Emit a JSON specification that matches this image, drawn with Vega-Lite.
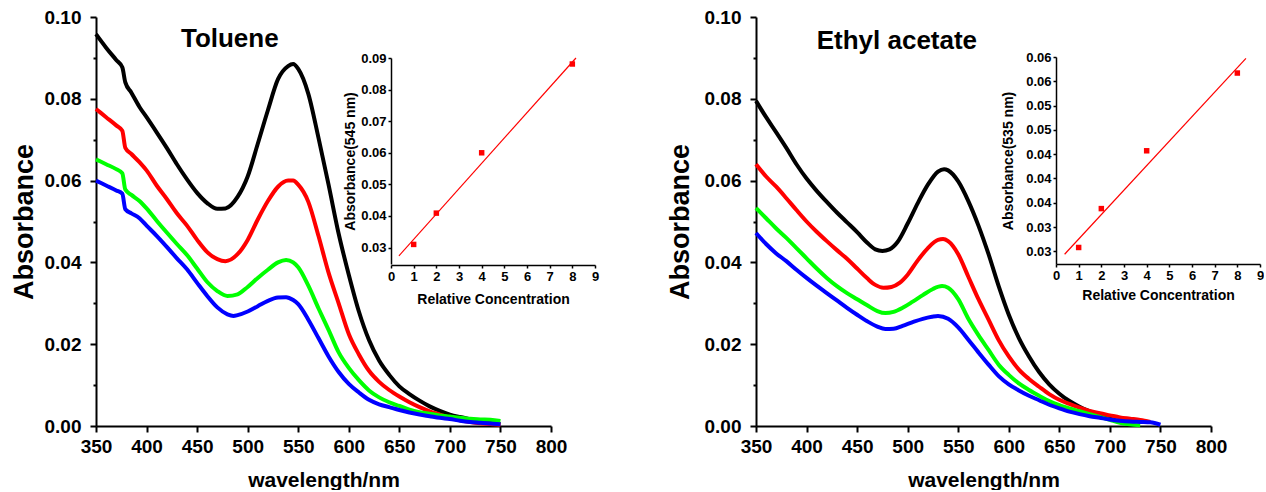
{
  "$schema": "https://vega.github.io/schema/vega-lite/v6.json",
  "padding": {"left": 10, "top": 8, "right": 0, "bottom": 0},
  "bounds": "flush",
  "spacing": 205,
  "config": {
    "font": "Liberation Sans",
    "view": {"stroke": null},
    "axis": {
      "grid": false,
      "labelFont": "Liberation Sans",
      "titleFont": "Liberation Sans",
      "labelFontWeight": "bold",
      "titleFontWeight": "bold",
      "labelColor": "#000000",
      "titleColor": "#000000",
      "domainColor": "#000000",
      "tickColor": "#000000",
      "labelOverlap": false,
      "labelFlush": false
    }
  },
  "datasets": {
    "spec": [
      {"p":"T","c":8,"w":350,"a":0.0958},{"p":"T","c":8,"w":360,"a":0.0925},{"p":"T","c":8,"w":370,"a":0.0895},{"p":"T","c":8,"w":376,"a":0.0877},{"p":"T","c":8,"w":379,"a":0.0840},{"p":"T","c":8,"w":385,"a":0.0815},{"p":"T","c":8,"w":393,"a":0.0780},{"p":"T","c":8,"w":400,"a":0.0755},{"p":"T","c":8,"w":410,"a":0.0718},{"p":"T","c":8,"w":420,"a":0.0680},{"p":"T","c":8,"w":430,"a":0.0640},{"p":"T","c":8,"w":440,"a":0.0603},{"p":"T","c":8,"w":450,"a":0.0570},{"p":"T","c":8,"w":460,"a":0.0545},{"p":"T","c":8,"w":470,"a":0.0531},{"p":"T","c":8,"w":478,"a":0.0532},{"p":"T","c":8,"w":490,"a":0.0560},{"p":"T","c":8,"w":500,"a":0.0610},{"p":"T","c":8,"w":510,"a":0.0690},{"p":"T","c":8,"w":520,"a":0.0772},{"p":"T","c":8,"w":530,"a":0.0848},{"p":"T","c":8,"w":540,"a":0.0880},{"p":"T","c":8,"w":545,"a":0.0885},{"p":"T","c":8,"w":550,"a":0.0873},{"p":"T","c":8,"w":560,"a":0.0812},{"p":"T","c":8,"w":570,"a":0.0705},{"p":"T","c":8,"w":580,"a":0.0590},{"p":"T","c":8,"w":590,"a":0.0470},{"p":"T","c":8,"w":600,"a":0.0370},{"p":"T","c":8,"w":610,"a":0.0280},{"p":"T","c":8,"w":620,"a":0.0210},{"p":"T","c":8,"w":630,"a":0.0160},{"p":"T","c":8,"w":640,"a":0.0125},{"p":"T","c":8,"w":650,"a":0.0097},{"p":"T","c":8,"w":660,"a":0.0078},{"p":"T","c":8,"w":670,"a":0.0062},{"p":"T","c":8,"w":680,"a":0.0048},{"p":"T","c":8,"w":690,"a":0.0037},{"p":"T","c":8,"w":700,"a":0.0028},{"p":"T","c":8,"w":710,"a":0.0022},{"p":"T","c":8,"w":720,"a":0.0017},{"p":"T","c":8,"w":730,"a":0.0012},{"p":"T","c":8,"w":740,"a":0.0008},{"p":"T","c":8,"w":750,"a":0.0005},

      {"p":"T","c":4,"w":350,"a":0.0775},{"p":"T","c":4,"w":360,"a":0.0755},{"p":"T","c":4,"w":370,"a":0.0735},{"p":"T","c":4,"w":376,"a":0.0722},{"p":"T","c":4,"w":379,"a":0.0680},{"p":"T","c":4,"w":385,"a":0.0665},{"p":"T","c":4,"w":393,"a":0.0645},{"p":"T","c":4,"w":400,"a":0.0625},{"p":"T","c":4,"w":410,"a":0.0588},{"p":"T","c":4,"w":420,"a":0.0555},{"p":"T","c":4,"w":430,"a":0.0520},{"p":"T","c":4,"w":440,"a":0.0490},{"p":"T","c":4,"w":450,"a":0.0455},{"p":"T","c":4,"w":460,"a":0.0425},{"p":"T","c":4,"w":470,"a":0.0408},{"p":"T","c":4,"w":478,"a":0.0403},{"p":"T","c":4,"w":490,"a":0.0420},{"p":"T","c":4,"w":500,"a":0.0455},{"p":"T","c":4,"w":510,"a":0.0505},{"p":"T","c":4,"w":520,"a":0.0550},{"p":"T","c":4,"w":530,"a":0.0585},{"p":"T","c":4,"w":540,"a":0.0600},{"p":"T","c":4,"w":545,"a":0.0600},{"p":"T","c":4,"w":550,"a":0.0590},{"p":"T","c":4,"w":560,"a":0.0548},{"p":"T","c":4,"w":570,"a":0.0465},{"p":"T","c":4,"w":580,"a":0.0375},{"p":"T","c":4,"w":590,"a":0.0300},{"p":"T","c":4,"w":600,"a":0.0225},{"p":"T","c":4,"w":610,"a":0.0175},{"p":"T","c":4,"w":620,"a":0.0135},{"p":"T","c":4,"w":630,"a":0.0108},{"p":"T","c":4,"w":640,"a":0.0088},{"p":"T","c":4,"w":650,"a":0.0072},{"p":"T","c":4,"w":660,"a":0.0058},{"p":"T","c":4,"w":670,"a":0.0046},{"p":"T","c":4,"w":680,"a":0.0036},{"p":"T","c":4,"w":690,"a":0.0028},{"p":"T","c":4,"w":700,"a":0.0020},{"p":"T","c":4,"w":710,"a":0.0014},{"p":"T","c":4,"w":720,"a":0.0010},{"p":"T","c":4,"w":730,"a":0.0007},{"p":"T","c":4,"w":740,"a":0.0005},{"p":"T","c":4,"w":750,"a":0.0003},

      {"p":"T","c":2,"w":350,"a":0.0652},{"p":"T","c":2,"w":360,"a":0.0640},{"p":"T","c":2,"w":370,"a":0.0628},{"p":"T","c":2,"w":376,"a":0.0618},{"p":"T","c":2,"w":379,"a":0.0578},{"p":"T","c":2,"w":385,"a":0.0565},{"p":"T","c":2,"w":393,"a":0.0550},{"p":"T","c":2,"w":400,"a":0.0532},{"p":"T","c":2,"w":410,"a":0.0502},{"p":"T","c":2,"w":420,"a":0.0473},{"p":"T","c":2,"w":430,"a":0.0445},{"p":"T","c":2,"w":440,"a":0.0418},{"p":"T","c":2,"w":450,"a":0.0385},{"p":"T","c":2,"w":460,"a":0.0352},{"p":"T","c":2,"w":470,"a":0.0330},{"p":"T","c":2,"w":480,"a":0.0318},{"p":"T","c":2,"w":490,"a":0.0322},{"p":"T","c":2,"w":500,"a":0.0340},{"p":"T","c":2,"w":510,"a":0.0362},{"p":"T","c":2,"w":520,"a":0.0382},{"p":"T","c":2,"w":530,"a":0.0400},{"p":"T","c":2,"w":538,"a":0.0406},{"p":"T","c":2,"w":545,"a":0.0400},{"p":"T","c":2,"w":550,"a":0.0388},{"p":"T","c":2,"w":560,"a":0.0343},{"p":"T","c":2,"w":570,"a":0.0288},{"p":"T","c":2,"w":580,"a":0.0235},{"p":"T","c":2,"w":590,"a":0.0180},{"p":"T","c":2,"w":600,"a":0.0142},{"p":"T","c":2,"w":610,"a":0.0112},{"p":"T","c":2,"w":620,"a":0.0087},{"p":"T","c":2,"w":630,"a":0.0070},{"p":"T","c":2,"w":640,"a":0.0058},{"p":"T","c":2,"w":650,"a":0.0049},{"p":"T","c":2,"w":660,"a":0.0040},{"p":"T","c":2,"w":670,"a":0.0034},{"p":"T","c":2,"w":680,"a":0.0030},{"p":"T","c":2,"w":690,"a":0.0026},{"p":"T","c":2,"w":700,"a":0.0023},{"p":"T","c":2,"w":710,"a":0.0020},{"p":"T","c":2,"w":720,"a":0.0018},{"p":"T","c":2,"w":730,"a":0.0016},{"p":"T","c":2,"w":740,"a":0.0015},{"p":"T","c":2,"w":750,"a":0.0012},

      {"p":"T","c":1,"w":350,"a":0.0600},{"p":"T","c":1,"w":360,"a":0.0588},{"p":"T","c":1,"w":370,"a":0.0576},{"p":"T","c":1,"w":376,"a":0.0568},{"p":"T","c":1,"w":379,"a":0.0530},{"p":"T","c":1,"w":385,"a":0.0520},{"p":"T","c":1,"w":393,"a":0.0508},{"p":"T","c":1,"w":400,"a":0.0490},{"p":"T","c":1,"w":410,"a":0.0465},{"p":"T","c":1,"w":420,"a":0.0438},{"p":"T","c":1,"w":430,"a":0.0410},{"p":"T","c":1,"w":440,"a":0.0383},{"p":"T","c":1,"w":450,"a":0.0350},{"p":"T","c":1,"w":460,"a":0.0318},{"p":"T","c":1,"w":470,"a":0.0290},{"p":"T","c":1,"w":480,"a":0.0273},{"p":"T","c":1,"w":486,"a":0.0269},{"p":"T","c":1,"w":490,"a":0.0271},{"p":"T","c":1,"w":500,"a":0.0280},{"p":"T","c":1,"w":510,"a":0.0293},{"p":"T","c":1,"w":520,"a":0.0306},{"p":"T","c":1,"w":530,"a":0.0314},{"p":"T","c":1,"w":538,"a":0.0315},{"p":"T","c":1,"w":545,"a":0.0308},{"p":"T","c":1,"w":550,"a":0.0298},{"p":"T","c":1,"w":560,"a":0.0260},{"p":"T","c":1,"w":570,"a":0.0215},{"p":"T","c":1,"w":580,"a":0.0170},{"p":"T","c":1,"w":590,"a":0.0132},{"p":"T","c":1,"w":600,"a":0.0103},{"p":"T","c":1,"w":610,"a":0.0082},{"p":"T","c":1,"w":620,"a":0.0064},{"p":"T","c":1,"w":630,"a":0.0053},{"p":"T","c":1,"w":640,"a":0.0046},{"p":"T","c":1,"w":650,"a":0.0039},{"p":"T","c":1,"w":660,"a":0.0033},{"p":"T","c":1,"w":670,"a":0.0028},{"p":"T","c":1,"w":680,"a":0.0024},{"p":"T","c":1,"w":690,"a":0.0020},{"p":"T","c":1,"w":700,"a":0.0017},{"p":"T","c":1,"w":710,"a":0.0013},{"p":"T","c":1,"w":720,"a":0.0010},{"p":"T","c":1,"w":730,"a":0.0008},{"p":"T","c":1,"w":740,"a":0.0006},{"p":"T","c":1,"w":750,"a":0.0004},

      {"p":"E","c":8,"w":350,"a":0.0795},{"p":"E","c":8,"w":360,"a":0.0755},{"p":"E","c":8,"w":370,"a":0.0718},{"p":"E","c":8,"w":380,"a":0.0680},{"p":"E","c":8,"w":390,"a":0.0640},{"p":"E","c":8,"w":400,"a":0.0605},{"p":"E","c":8,"w":410,"a":0.0575},{"p":"E","c":8,"w":420,"a":0.0548},{"p":"E","c":8,"w":430,"a":0.0522},{"p":"E","c":8,"w":440,"a":0.0498},{"p":"E","c":8,"w":450,"a":0.0474},{"p":"E","c":8,"w":460,"a":0.0448},{"p":"E","c":8,"w":468,"a":0.0432},{"p":"E","c":8,"w":475,"a":0.0428},{"p":"E","c":8,"w":482,"a":0.0432},{"p":"E","c":8,"w":490,"a":0.0450},{"p":"E","c":8,"w":500,"a":0.0495},{"p":"E","c":8,"w":510,"a":0.0545},{"p":"E","c":8,"w":520,"a":0.0590},{"p":"E","c":8,"w":530,"a":0.0622},{"p":"E","c":8,"w":536,"a":0.0628},{"p":"E","c":8,"w":540,"a":0.0625},{"p":"E","c":8,"w":550,"a":0.0598},{"p":"E","c":8,"w":560,"a":0.0550},{"p":"E","c":8,"w":570,"a":0.0490},{"p":"E","c":8,"w":580,"a":0.0420},{"p":"E","c":8,"w":590,"a":0.0342},{"p":"E","c":8,"w":600,"a":0.0272},{"p":"E","c":8,"w":610,"a":0.0215},{"p":"E","c":8,"w":620,"a":0.0170},{"p":"E","c":8,"w":630,"a":0.0132},{"p":"E","c":8,"w":640,"a":0.0102},{"p":"E","c":8,"w":650,"a":0.0079},{"p":"E","c":8,"w":660,"a":0.0061},{"p":"E","c":8,"w":670,"a":0.0047},{"p":"E","c":8,"w":680,"a":0.0036},{"p":"E","c":8,"w":690,"a":0.0026},{"p":"E","c":8,"w":700,"a":0.0018},{"p":"E","c":8,"w":710,"a":0.0011},{"p":"E","c":8,"w":720,"a":0.0004},

      {"p":"E","c":4,"w":350,"a":0.0640},{"p":"E","c":4,"w":360,"a":0.0610},{"p":"E","c":4,"w":370,"a":0.0585},{"p":"E","c":4,"w":380,"a":0.0557},{"p":"E","c":4,"w":390,"a":0.0528},{"p":"E","c":4,"w":400,"a":0.0500},{"p":"E","c":4,"w":410,"a":0.0475},{"p":"E","c":4,"w":420,"a":0.0452},{"p":"E","c":4,"w":430,"a":0.0430},{"p":"E","c":4,"w":440,"a":0.0409},{"p":"E","c":4,"w":450,"a":0.0385},{"p":"E","c":4,"w":460,"a":0.0361},{"p":"E","c":4,"w":468,"a":0.0345},{"p":"E","c":4,"w":476,"a":0.0338},{"p":"E","c":4,"w":484,"a":0.0340},{"p":"E","c":4,"w":492,"a":0.0350},{"p":"E","c":4,"w":500,"a":0.0370},{"p":"E","c":4,"w":510,"a":0.0405},{"p":"E","c":4,"w":520,"a":0.0435},{"p":"E","c":4,"w":530,"a":0.0455},{"p":"E","c":4,"w":535,"a":0.0457},{"p":"E","c":4,"w":540,"a":0.0452},{"p":"E","c":4,"w":550,"a":0.0420},{"p":"E","c":4,"w":560,"a":0.0365},{"p":"E","c":4,"w":570,"a":0.0310},{"p":"E","c":4,"w":580,"a":0.0260},{"p":"E","c":4,"w":590,"a":0.0210},{"p":"E","c":4,"w":600,"a":0.0170},{"p":"E","c":4,"w":610,"a":0.0138},{"p":"E","c":4,"w":620,"a":0.0115},{"p":"E","c":4,"w":630,"a":0.0096},{"p":"E","c":4,"w":640,"a":0.0078},{"p":"E","c":4,"w":650,"a":0.0064},{"p":"E","c":4,"w":660,"a":0.0054},{"p":"E","c":4,"w":670,"a":0.0045},{"p":"E","c":4,"w":680,"a":0.0037},{"p":"E","c":4,"w":690,"a":0.0031},{"p":"E","c":4,"w":700,"a":0.0026},{"p":"E","c":4,"w":710,"a":0.0021},{"p":"E","c":4,"w":720,"a":0.0018},{"p":"E","c":4,"w":730,"a":0.0015},{"p":"E","c":4,"w":740,"a":0.0010},

      {"p":"E","c":2,"w":350,"a":0.0533},{"p":"E","c":2,"w":360,"a":0.0508},{"p":"E","c":2,"w":370,"a":0.0483},{"p":"E","c":2,"w":380,"a":0.0460},{"p":"E","c":2,"w":390,"a":0.0435},{"p":"E","c":2,"w":400,"a":0.0410},{"p":"E","c":2,"w":410,"a":0.0385},{"p":"E","c":2,"w":420,"a":0.0362},{"p":"E","c":2,"w":430,"a":0.0342},{"p":"E","c":2,"w":440,"a":0.0325},{"p":"E","c":2,"w":450,"a":0.0310},{"p":"E","c":2,"w":460,"a":0.0295},{"p":"E","c":2,"w":470,"a":0.0281},{"p":"E","c":2,"w":478,"a":0.0276},{"p":"E","c":2,"w":486,"a":0.0279},{"p":"E","c":2,"w":495,"a":0.0289},{"p":"E","c":2,"w":505,"a":0.0304},{"p":"E","c":2,"w":515,"a":0.0320},{"p":"E","c":2,"w":525,"a":0.0335},{"p":"E","c":2,"w":534,"a":0.0342},{"p":"E","c":2,"w":540,"a":0.0338},{"p":"E","c":2,"w":550,"a":0.0310},{"p":"E","c":2,"w":560,"a":0.0262},{"p":"E","c":2,"w":570,"a":0.0222},{"p":"E","c":2,"w":580,"a":0.0186},{"p":"E","c":2,"w":590,"a":0.0150},{"p":"E","c":2,"w":600,"a":0.0125},{"p":"E","c":2,"w":610,"a":0.0104},{"p":"E","c":2,"w":620,"a":0.0088},{"p":"E","c":2,"w":630,"a":0.0074},{"p":"E","c":2,"w":640,"a":0.0061},{"p":"E","c":2,"w":650,"a":0.0051},{"p":"E","c":2,"w":660,"a":0.0043},{"p":"E","c":2,"w":670,"a":0.0036},{"p":"E","c":2,"w":680,"a":0.0029},{"p":"E","c":2,"w":690,"a":0.0022},{"p":"E","c":2,"w":700,"a":0.0015},{"p":"E","c":2,"w":710,"a":0.0008},{"p":"E","c":2,"w":720,"a":0.0004},{"p":"E","c":2,"w":730,"a":0.0002},

      {"p":"E","c":1,"w":350,"a":0.0472},{"p":"E","c":1,"w":360,"a":0.0445},{"p":"E","c":1,"w":370,"a":0.0422},{"p":"E","c":1,"w":380,"a":0.0403},{"p":"E","c":1,"w":390,"a":0.0382},{"p":"E","c":1,"w":400,"a":0.0362},{"p":"E","c":1,"w":410,"a":0.0343},{"p":"E","c":1,"w":420,"a":0.0325},{"p":"E","c":1,"w":430,"a":0.0307},{"p":"E","c":1,"w":440,"a":0.0289},{"p":"E","c":1,"w":450,"a":0.0272},{"p":"E","c":1,"w":460,"a":0.0256},{"p":"E","c":1,"w":470,"a":0.0243},{"p":"E","c":1,"w":478,"a":0.0237},{"p":"E","c":1,"w":486,"a":0.0238},{"p":"E","c":1,"w":495,"a":0.0245},{"p":"E","c":1,"w":505,"a":0.0254},{"p":"E","c":1,"w":515,"a":0.0262},{"p":"E","c":1,"w":524,"a":0.0267},{"p":"E","c":1,"w":530,"a":0.0269},{"p":"E","c":1,"w":540,"a":0.0262},{"p":"E","c":1,"w":550,"a":0.0241},{"p":"E","c":1,"w":560,"a":0.0211},{"p":"E","c":1,"w":570,"a":0.0180},{"p":"E","c":1,"w":580,"a":0.0150},{"p":"E","c":1,"w":590,"a":0.0122},{"p":"E","c":1,"w":600,"a":0.0102},{"p":"E","c":1,"w":610,"a":0.0087},{"p":"E","c":1,"w":620,"a":0.0074},{"p":"E","c":1,"w":630,"a":0.0063},{"p":"E","c":1,"w":640,"a":0.0052},{"p":"E","c":1,"w":650,"a":0.0043},{"p":"E","c":1,"w":660,"a":0.0035},{"p":"E","c":1,"w":670,"a":0.0029},{"p":"E","c":1,"w":680,"a":0.0024},{"p":"E","c":1,"w":690,"a":0.0020},{"p":"E","c":1,"w":700,"a":0.0016},{"p":"E","c":1,"w":710,"a":0.0013},{"p":"E","c":1,"w":720,"a":0.0011},{"p":"E","c":1,"w":730,"a":0.0010},{"p":"E","c":1,"w":740,"a":0.0009},{"p":"E","c":1,"w":750,"a":0.0003}
    ],
    "pts": [
      {"p":"T","x":1,"a":0.0310},{"p":"T","x":2,"a":0.0409},{"p":"T","x":4,"a":0.0600},{"p":"T","x":8,"a":0.0881},
      {"p":"E","x":1,"a":0.0258},{"p":"E","x":2,"a":0.0338},{"p":"E","x":4,"a":0.0457},{"p":"E","x":8,"a":0.0617}
    ],
    "fit": [
      {"p":"T","x":0.35,"a":0.0274},{"p":"T","x":8.16,"a":0.0900},
      {"p":"E","x":0.38,"a":0.0244},{"p":"E","x":8.38,"a":0.0647}
    ]
  },
  "hconcat": [
    {
      "width": 455,
      "height": 409,
      "layer": [
        {
          "layer": [
            {
              "data": {"name": "spec"},
              "transform": [{"filter": "datum.p == 'T'"}],
              "mark": {"type": "line", "strokeWidth": 4, "interpolate": "monotone", "strokeJoin": "round"},
              "encoding": {
                "x": {"field": "w", "type": "quantitative", "scale": {"domain": [350, 800], "nice": false},
                  "axis": {"title": "wavelength/nm", "values": [350,375,400,425,450,475,500,525,550,575,600,625,650,675,700,725,750,775,800],
                    "labelExpr": "datum.value % 50 == 0 ? format(datum.value, 'd') : ''",
                    "tickSize": {"condition": {"test": "datum.value % 50 == 0", "value": 6}, "value": 3},
                    "tickWidth": 2, "domainWidth": 2, "labelFontSize": 19, "titleFontSize": 21, "labelPadding": 5, "titlePadding": 13}},
                "y": {"field": "a", "type": "quantitative", "scale": {"domain": [0, 0.1], "nice": false},
                  "axis": {"title": "Absorbance", "values": [0,0.01,0.02,0.03,0.04,0.05,0.06,0.07,0.08,0.09,0.1],
                    "labelExpr": "round(datum.value*100) % 2 == 0 ? format(datum.value, '.2f') : ''",
                    "tickSize": {"condition": {"test": "round(datum.value*100) % 2 == 0", "value": 6}, "value": 3},
                    "tickWidth": 2, "domainWidth": 2, "labelFontSize": 19, "titleFontSize": 27, "labelPadding": 9, "titlePadding": 6}},
                "color": {"field": "c", "type": "nominal", "sort": [8,4,2,1], "scale": {"domain": [8,4,2,1], "range": ["#000000","#ff0000","#00ff00","#0000ff"]}, "legend": null}
              }
            },
            {
              "data": {"values": [{"t": "Toluene"}]},
              "mark": {"type": "text", "align": "left", "baseline": "alphabetic", "fontSize": 26, "fontWeight": "bold", "font": "Liberation Sans", "color": "#000000"},
              "encoding": {
                "text": {"field": "t"},
                "x": {"datum": 434, "type": "quantitative"},
                "y": {"datum": 0.0927, "type": "quantitative"}
              }
            }
          ]
        },
        {
          "layer": [
            {
              "data": {"name": "fit"},
              "transform": [{"filter": "datum.p == 'T'"}],
              "mark": {"type": "line", "color": "#ff0000", "strokeWidth": 1.2},
              "encoding": {
                "x": {"field": "x", "type": "quantitative", "scale": {"domain": [0, 9], "range": [295, 499], "nice": false},
                  "axis": {"orient": "bottom", "offset": -161, "title": "Relative Concentration", "values": [0,1,2,3,4,5,6,7,8,9],
                    "tickSize": 3, "tickWidth": 1.5, "domainWidth": 1.5, "labelFontSize": 13, "titleFontSize": 14, "labelPadding": 2, "titlePadding": 9}},
                "y": {"field": "a", "type": "quantitative", "scale": {"domain": [0.0248, 0.09], "range": [247, 41], "nice": false, "zero": false},
                  "axis": {"orient": "left", "offset": -295, "title": "Absorbance(545 nm)", "values": [0.03,0.04,0.05,0.06,0.07,0.08,0.09], "format": ".2f",
                    "tickSize": 3, "tickWidth": 1.5, "domainWidth": 1.5, "labelFontSize": 13, "titleFontSize": 14, "labelPadding": 2, "titlePadding": 3}}
              }
            },
            {
              "data": {"name": "pts"},
              "transform": [{"filter": "datum.p == 'T'"}],
              "mark": {"type": "square", "color": "#ff0000", "size": 30, "opacity": 1},
              "encoding": {
                "x": {"field": "x", "type": "quantitative"},
                "y": {"field": "a", "type": "quantitative"}
              }
            }
          ]
        }
      ],
      "resolve": {"scale": {"x": "independent", "y": "independent"}}
    },
    {
      "width": 455,
      "height": 409,
      "layer": [
        {
          "layer": [
            {
              "data": {"name": "spec"},
              "transform": [{"filter": "datum.p == 'E'"}],
              "mark": {"type": "line", "strokeWidth": 4, "interpolate": "monotone", "strokeJoin": "round"},
              "encoding": {
                "x": {"field": "w", "type": "quantitative", "scale": {"domain": [350, 800], "nice": false},
                  "axis": {"title": "wavelength/nm", "values": [350,375,400,425,450,475,500,525,550,575,600,625,650,675,700,725,750,775,800],
                    "labelExpr": "datum.value % 50 == 0 ? format(datum.value, 'd') : ''",
                    "tickSize": {"condition": {"test": "datum.value % 50 == 0", "value": 6}, "value": 3},
                    "tickWidth": 2, "domainWidth": 2, "labelFontSize": 19, "titleFontSize": 21, "labelPadding": 5, "titlePadding": 13}},
                "y": {"field": "a", "type": "quantitative", "scale": {"domain": [0, 0.1], "nice": false},
                  "axis": {"title": "Absorbance", "values": [0,0.01,0.02,0.03,0.04,0.05,0.06,0.07,0.08,0.09,0.1],
                    "labelExpr": "round(datum.value*100) % 2 == 0 ? format(datum.value, '.2f') : ''",
                    "tickSize": {"condition": {"test": "round(datum.value*100) % 2 == 0", "value": 6}, "value": 3},
                    "tickWidth": 2, "domainWidth": 2, "labelFontSize": 19, "titleFontSize": 27, "labelPadding": 9, "titlePadding": 10}},
                "color": {"field": "c", "type": "nominal", "sort": [8,4,2,1], "scale": {"domain": [8,4,2,1], "range": ["#000000","#ff0000","#00ff00","#0000ff"]}, "legend": null}
              }
            },
            {
              "data": {"values": [{"t": "Ethyl acetate"}]},
              "mark": {"type": "text", "align": "left", "baseline": "alphabetic", "fontSize": 26, "fontWeight": "bold", "font": "Liberation Sans", "color": "#000000"},
              "encoding": {
                "text": {"field": "t"},
                "x": {"datum": 410, "type": "quantitative"},
                "y": {"datum": 0.0922, "type": "quantitative"}
              }
            }
          ]
        },
        {
          "layer": [
            {
              "data": {"name": "fit"},
              "transform": [{"filter": "datum.p == 'E'"}],
              "mark": {"type": "line", "color": "#ff0000", "strokeWidth": 1.2},
              "encoding": {
                "x": {"field": "x", "type": "quantitative", "scale": {"domain": [0, 9], "range": [300, 504], "nice": false},
                  "axis": {"orient": "bottom", "offset": -162, "title": "Relative Concentration", "values": [0,1,2,3,4,5,6,7,8,9],
                    "tickSize": 3, "tickWidth": 1.5, "domainWidth": 1.5, "labelFontSize": 13, "titleFontSize": 14, "labelPadding": 2, "titlePadding": 6}},
                "y": {"field": "a", "type": "quantitative", "scale": {"domain": [0.0224, 0.065], "range": [247, 40], "nice": false, "zero": false},
                  "axis": {"orient": "left", "offset": -300, "title": "Absorbance(535 nm)", "values": [0.025,0.03,0.035,0.04,0.045,0.05,0.055,0.06,0.065],
                    "labelExpr": "datum.value > 0.0575 ? '0.06' : datum.value > 0.0475 ? '0.05' : datum.value > 0.0325 ? '0.04' : '0.03'",
                    "tickSize": 3, "tickWidth": 1.5, "domainWidth": 1.5, "labelFontSize": 13, "titleFontSize": 14, "labelPadding": 2, "titlePadding": 10}}
              }
            },
            {
              "data": {"name": "pts"},
              "transform": [{"filter": "datum.p == 'E'"}],
              "mark": {"type": "square", "color": "#ff0000", "size": 30, "opacity": 1},
              "encoding": {
                "x": {"field": "x", "type": "quantitative"},
                "y": {"field": "a", "type": "quantitative"}
              }
            }
          ]
        }
      ],
      "resolve": {"scale": {"x": "independent", "y": "independent"}}
    }
  ]
}
